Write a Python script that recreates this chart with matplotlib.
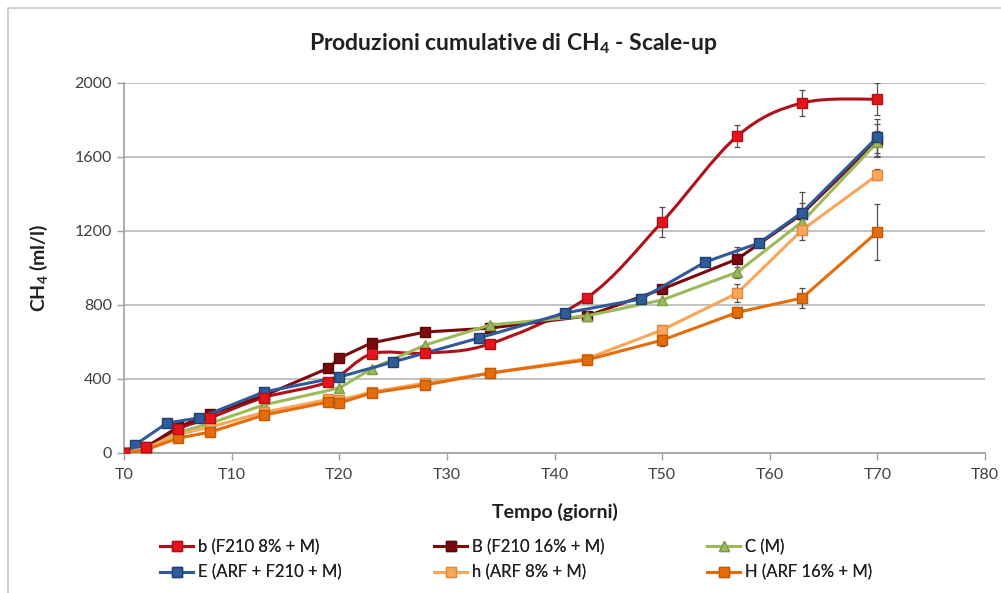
import numpy as np
import matplotlib
matplotlib.use("Agg")
import matplotlib.pyplot as plt
from matplotlib.path import Path
from matplotlib.patches import PathPatch, Rectangle
from matplotlib.lines import Line2D

plt.rcParams['font.family'] = ['Lato', 'DejaVu Sans']
plt.rcParams['mathtext.fontset'] = 'custom'
plt.rcParams['mathtext.rm'] = 'Lato'
plt.rcParams['mathtext.bf'] = 'Lato:bold'
plt.rcParams['mathtext.default'] = 'bf'

# cumulative CH4 (ml/l) per reactor, days on the x axis
days_b = [0, 2, 5, 8, 13, 19, 23, 28, 34, 43, 50, 57, 63, 70]
ch4_b = [0, 30, 130, 190, 300, 385, 535, 540, 590, 838, 1249, 1714, 1892, 1913]
err_b = [0, 0, 0, 0, 0, 0, 0, 0, 0, 20, 80, 60, 70, 85]

days_B = [0, 2, 5, 8, 13, 19, 20, 23, 28, 34, 43, 50, 57, 63, 70]
ch4_B = [0, 30, 140, 210, 310, 459, 513, 595, 654, 675, 740, 886, 1049, 1292, 1690]
err_B = [0, 0, 0, 0, 0, 0, 0, 0, 0, 0, 0, 0, 65, 60, 90]

days_C = [0, 2, 5, 8, 13, 20, 23, 28, 34, 43, 50, 57, 63, 70]
ch4_C = [0, 20, 110, 160, 260, 351, 455, 584, 692, 741, 827, 978, 1249, 1680]
err_C = [0, 0, 0, 0, 0, 0, 0, 0, 0, 0, 0, 30, 40, 60]

days_E = [0, 1, 4, 7, 13, 20, 25, 33, 41, 48, 54, 59, 63, 70]
ch4_E = [0, 43, 162, 190, 330, 411, 492, 622, 757, 832, 1032, 1135, 1300, 1708]
err_E = [0, 0, 0, 0, 0, 0, 0, 0, 0, 25, 0, 0, 110, 100]

days_h = [0, 2, 5, 8, 13, 19, 20, 23, 28, 34, 43, 50, 57, 63, 70]
ch4_h = [0, 25, 100, 140, 220, 290, 285, 330, 378, 432, 510, 665, 865, 1205, 1503]
err_h = [0, 0, 0, 0, 0, 0, 0, 0, 0, 0, 0, 25, 50, 55, 30]

days_H = [0, 2, 5, 8, 13, 19, 20, 23, 28, 34, 43, 50, 57, 63, 70]
ch4_H = [0, 16, 80, 113, 205, 276, 270, 324, 368, 432, 503, 610, 760, 838, 1195]
err_H = [0, 0, 0, 0, 0, 0, 0, 0, 0, 0, 0, 30, 30, 55, 150]

labels = ["b (F210 8% + M)", "B (F210 16% + M)", "C (M)",
          "E (ARF + F210 + M)", "h (ARF 8% + M)", "H (ARF 16% + M)"]

xticks = list(range(0, 81, 10))
yticks = [0, 400, 800, 1200, 1600, 2000]


def smooth_path(x, y):
    # Catmull-Rom style bezier through the points (spreadsheet "smoothed line")
    x = np.asarray(x, float)
    y = np.asarray(y, float)
    verts = [(x[0], y[0])]
    codes = [Path.MOVETO]
    n = len(x)
    for i in range(n - 1):
        x0, y0 = (x[i - 1], y[i - 1]) if i > 0 else (x[i], y[i])
        x3, y3 = (x[i + 2], y[i + 2]) if i + 2 < n else (x[i + 1], y[i + 1])
        c1 = (x[i] + (x[i + 1] - x0) / 6, y[i] + (y[i + 1] - y0) / 6)
        c2 = (x[i + 1] - (x3 - x[i]) / 6, y[i + 1] - (y3 - y[i]) / 6)
        verts += [c1, c2, (x[i + 1], y[i + 1])]
        codes += [Path.CURVE4] * 3
    return Path(verts, codes)


fig = plt.figure(figsize=(10.01, 5.93), dpi=100)
fig.patches.append(Rectangle((8 / 1001, -0.01), 1.02, 1 - 8 / 593 + 0.01,
                             transform=fig.transFigure, fill=False,
                             edgecolor='#c8c8c8', linewidth=1.2))
ax = fig.add_axes([124 / 1001, 1 - 453 / 593, 861 / 1001, 370 / 593])

series = [
    (days_b, ch4_b, err_b, '#e8141c', '#b01018', 's', 7.5, True),
    (days_B, ch4_B, err_B, '#7a0a0e', '#5a0508', 's', 7.5, False),
    (days_C, ch4_C, err_C, '#9bbb59', '#7f9a48', '^', 6.5, False),
    (days_E, ch4_E, err_E, '#2f5b9a', '#1f3f70', 's', 7.5, False),
    (days_h, ch4_h, err_h, '#f8a65a', '#e08a3c', 's', 7.5, False),
    (days_H, ch4_H, err_H, '#e46c0a', '#c05a08', 's', 7.5, False),
]

handles = []
for (xd, yd, ed, col, edge, mk, ms, smooth), lab in zip(series, labels):
    yerr = np.array(ed, float)
    mask = yerr > 0
    ax.errorbar(np.array(xd)[mask], np.array(yd)[mask], yerr=yerr[mask],
                fmt='none', ecolor='#505050', elinewidth=0.9, capsize=2.5,
                capthick=0.9, zorder=2)
    if smooth:
        ax.add_patch(PathPatch(smooth_path(xd, yd), facecolor='none',
                               edgecolor=edge, linewidth=2.2, zorder=3))
        ax.plot(xd, yd, linestyle='none', marker=mk, markersize=ms,
                markerfacecolor=col, markeredgecolor=edge, zorder=4)
    else:
        ax.plot(xd, yd, color=col, linewidth=2.2, marker=mk, markersize=ms,
                markerfacecolor=col, markeredgecolor=edge, zorder=3)
    handles.append(Line2D([], [], color=col if not smooth else edge,
                          linewidth=2.2, marker=mk, markersize=ms,
                          markerfacecolor=col, markeredgecolor=edge))

ax.set_xlim(0, 80)
ax.set_ylim(0, 2000)
ax.set_xticks(xticks)
ax.set_xticklabels([f"T{t}" for t in xticks])
ax.set_yticks(yticks)
ax.grid(axis='y', color='#bdbdbd', linewidth=1.3)
ax.set_axisbelow(True)
for s in ['top', 'right']:
    ax.spines[s].set_visible(False)
for s in ['left', 'bottom']:
    ax.spines[s].set_color('#a0a0a0')
    ax.spines[s].set_linewidth(1.2)
ax.tick_params(axis='both', colors='#a0a0a0', labelcolor='#404040',
               labelsize=11.5, length=5, width=1)
ax.tick_params(axis='x', pad=6)

fig.text(0.513, 1 - 44 / 593, "Produzioni cumulative di CH$_4$ - Scale-up",
         ha='center', va='center', fontsize=16.5, fontweight='bold',
         color='#202020')
ax.set_xlabel("Tempo (giorni)", fontsize=14, fontweight='bold',
              color='#202020', labelpad=15)
ax.set_ylabel("CH$_4$ (ml/l)", fontsize=14, fontweight='bold',
              color='#202020', labelpad=18)

# legend laid out as three fixed columns, two rows each
col_left = [160, 434, 707]
for c in range(3):
    idx = [c, c + 3]
    leg = fig.legend([handles[i] for i in idx], [labels[i] for i in idx],
                     loc='upper left',
                     bbox_to_anchor=(col_left[c] / 1001, 1 - 539 / 593),
                     frameon=False, fontsize=12, handlelength=2.0,
                     handletextpad=0.3, labelspacing=0.55,
                     borderaxespad=0, borderpad=0, labelcolor='#202020')
    fig.add_artist(leg)

fig.savefig("out.png", dpi=100)
